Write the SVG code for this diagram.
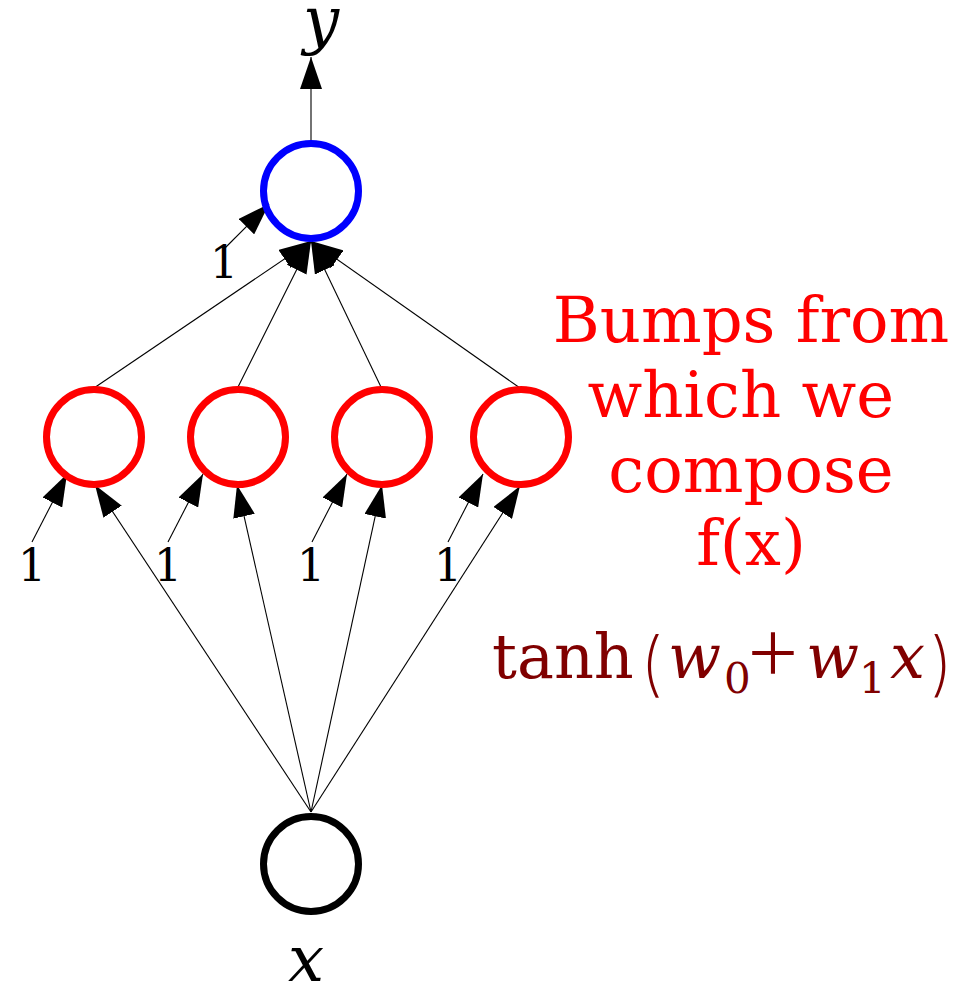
<svg xmlns="http://www.w3.org/2000/svg" width="955" height="987" viewBox="0 0 955 987">
<style>
.node{fill:none;stroke-width:7}
.edge{stroke:#000;stroke-width:1.1;fill:none;marker-end:url(#ah)}
.lbl{font-family:"DejaVu Serif",serif;fill:#000}
.one{font-family:"DejaVu Serif",serif;font-size:44px;text-anchor:middle;fill:#000}
.cap{font-family:"DejaVu Serif",serif;font-size:64px;fill:#ff0000;text-anchor:middle;white-space:pre}
.f{font-family:"DejaVu Serif",serif;fill:#800000}
.thin{font-family:Inter,"Liberation Sans",sans-serif;font-weight:200;fill:#800000}
</style>
<defs>
<marker id="ah" markerUnits="userSpaceOnUse" markerWidth="32" markerHeight="22" refX="32" refY="11" orient="auto" viewBox="0 0 32 22">
<path d="M0,0 L32,11 L0,22 Z" fill="#000"/>
</marker>
</defs>
<rect width="955" height="987" fill="#fff"/>
<g id="connectors">
<line class="edge" x1="311" y1="140" x2="311" y2="57"/>
<line class="edge" x1="94" y1="388" x2="311" y2="241"/>
<line class="edge" x1="238" y1="387" x2="311" y2="241"/>
<line class="edge" x1="381" y1="387" x2="311" y2="241"/>
<line class="edge" x1="520" y1="388" x2="311" y2="241"/>
<line class="edge" x1="225" y1="248" x2="269" y2="204"/>
<line class="edge" x1="311" y1="812" x2="95" y2="485"/>
<line class="edge" x1="311" y1="812" x2="237" y2="485"/>
<line class="edge" x1="311" y1="812" x2="382" y2="485"/>
<line class="edge" x1="311" y1="812" x2="520" y2="486"/>
<line class="edge" x1="32" y1="542" x2="67" y2="474"/>
<line class="edge" x1="168" y1="542" x2="203" y2="474"/>
<line class="edge" x1="312" y1="542" x2="347" y2="474"/>
<line class="edge" x1="448" y1="542" x2="483" y2="474"/>
</g>
<g id="output"><circle class="node" cx="311" cy="191" r="47.5" stroke="#0000ff"/></g>
<g id="hidden1"><circle class="node" cx="94" cy="437" r="47.5" stroke="#ff0000"/></g>
<g id="hidden2"><circle class="node" cx="238" cy="437" r="47.5" stroke="#ff0000"/></g>
<g id="hidden3"><circle class="node" cx="382" cy="437" r="47.5" stroke="#ff0000"/></g>
<g id="hidden4"><circle class="node" cx="521" cy="437" r="47.5" stroke="#ff0000"/></g>
<g id="input"><circle class="node" cx="311" cy="864" r="47.5" stroke="#000"/></g>
<g id="labels">
<text class="lbl" x="321" y="42" font-size="64" font-style="italic" text-anchor="middle">y</text>
<text class="lbl" x="306" y="981" font-size="64" font-style="italic" text-anchor="middle">x</text>
<text class="one" x="224" y="278">1</text>
<text class="one" x="32" y="581">1</text>
<text class="one" x="168" y="581">1</text>
<text class="one" x="311" y="581">1</text>
<text class="one" x="448" y="581">1</text>
</g>
<g id="caption">
<text class="cap" x="751" y="342">Bumps from</text>
<text class="cap" x="751" y="417">which we </text>
<text class="cap" x="751" y="492">compose</text>
<text class="cap" x="751" y="565">f(x)</text>
</g>
<g id="formula">
<text class="f" x="492" y="678" font-size="62">tanh</text>
<text class="thin" x="640" y="688" font-size="70">(</text>
<text class="f" x="668" y="678" font-size="62" font-style="italic">w</text>
<text class="f" x="724" y="693" font-size="42">0</text>
<text class="thin" x="773" y="680" font-size="96" text-anchor="middle">+</text>
<text class="f" x="806" y="678" font-size="62" font-style="italic">w</text>
<text class="f" x="859" y="693" font-size="42">1</text>
<text class="f" x="890" y="678" font-size="62" font-style="italic">x</text>
<text class="thin" x="930" y="688" font-size="70">)</text>
</g>
</svg>
